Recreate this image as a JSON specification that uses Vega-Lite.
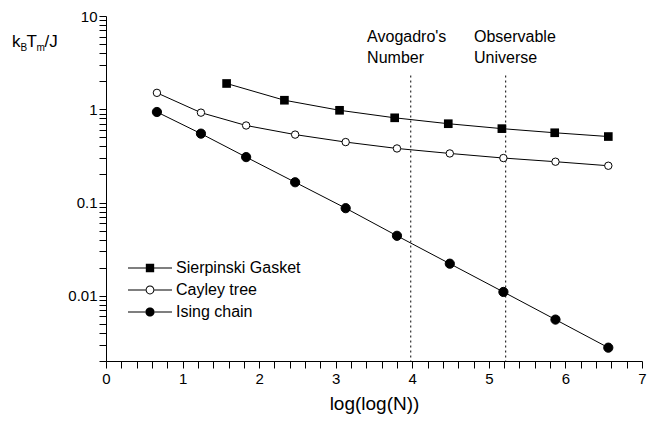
{
  "$schema": "https://vega.github.io/schema/vega-lite/v6.json",
  "width": 536,
  "height": 345,
  "autosize": "none",
  "padding": {"left": 106, "top": 16, "right": 15, "bottom": 60},
  "background": "white",
  "config": {
    "view": {"stroke": null},
    "font": "Liberation Sans",
    "axis": {"labelFont": "Liberation Sans", "titleFont": "Liberation Sans", "domainColor": "black", "tickColor": "black", "labelColor": "black", "titleColor": "black", "grid": false, "domainWidth": 1, "tickWidth": 1, "labelOverlap": false}
  },
  "datasets": {
    "series": [
      {"model": "Sierpinski Gasket", "x": 1.575, "y": 1.89},
      {"model": "Sierpinski Gasket", "x": 2.33, "y": 1.25},
      {"model": "Sierpinski Gasket", "x": 3.05, "y": 0.975},
      {"model": "Sierpinski Gasket", "x": 3.77, "y": 0.81},
      {"model": "Sierpinski Gasket", "x": 4.47, "y": 0.70},
      {"model": "Sierpinski Gasket", "x": 5.17, "y": 0.62},
      {"model": "Sierpinski Gasket", "x": 5.86, "y": 0.56},
      {"model": "Sierpinski Gasket", "x": 6.56, "y": 0.51},
      {"model": "Cayley tree", "x": 0.665, "y": 1.50},
      {"model": "Cayley tree", "x": 1.24, "y": 0.92},
      {"model": "Cayley tree", "x": 1.83, "y": 0.67},
      {"model": "Cayley tree", "x": 2.47, "y": 0.535},
      {"model": "Cayley tree", "x": 3.13, "y": 0.445},
      {"model": "Cayley tree", "x": 3.80, "y": 0.38},
      {"model": "Cayley tree", "x": 4.49, "y": 0.336},
      {"model": "Cayley tree", "x": 5.19, "y": 0.30},
      {"model": "Cayley tree", "x": 5.87, "y": 0.274},
      {"model": "Cayley tree", "x": 6.56, "y": 0.248},
      {"model": "Ising chain", "x": 0.665, "y": 0.935},
      {"model": "Ising chain", "x": 1.24, "y": 0.548},
      {"model": "Ising chain", "x": 1.83, "y": 0.307},
      {"model": "Ising chain", "x": 2.47, "y": 0.165},
      {"model": "Ising chain", "x": 3.13, "y": 0.087},
      {"model": "Ising chain", "x": 3.80, "y": 0.044},
      {"model": "Ising chain", "x": 4.49, "y": 0.0221},
      {"model": "Ising chain", "x": 5.19, "y": 0.011},
      {"model": "Ising chain", "x": 5.87, "y": 0.00556},
      {"model": "Ising chain", "x": 6.56, "y": 0.00278}
    ],
    "marks": [
      {"label": "Avogadro's\nNumber", "x": 3.98, "labelx": 3.41},
      {"label": "Observable\nUniverse", "x": 5.22, "labelx": 4.806}
    ]
  },
  "layer": [
    {
      "data": {"name": "series"},
      "mark": {"type": "line", "color": "black", "strokeWidth": 1},
      "encoding": {
        "x": {"field": "x", "type": "quantitative", "scale": {"domain": [0, 7], "nice": false, "zero": false},
          "axis": {
            "values": [0, 0.2, 0.4, 0.6, 0.8, 1, 1.2, 1.4, 1.6, 1.8, 2, 2.2, 2.4, 2.6, 2.8, 3, 3.2, 3.4, 3.6, 3.8, 4, 4.2, 4.4, 4.6, 4.8, 5, 5.2, 5.4, 5.6, 5.8, 6, 6.2, 6.4, 6.6, 6.8, 7],
            "tickCount": 200,
            "labelExpr": "datum.value == 0 ? '0' : datum.value == 1 ? '1' : datum.value == 2 ? '2' : datum.value == 3 ? '3' : datum.value == 4 ? '4' : datum.value == 5 ? '5' : datum.value == 6 ? '6' : datum.value == 7 ? '7' : ''",
            "tickSize": 7,
            "encode": {"ticks": {"update": {"y2": {"signal": "(datum.value == 0 || datum.value == 1 || datum.value == 2 || datum.value == 3 || datum.value == 4 || datum.value == 5 || datum.value == 6 || datum.value == 7) ? 7 : 4"}}}},
            "labelFontSize": 15, "labelPadding": 3, "labelFlush": false, "labelOverlap": false, "labelBound": false,
            "title": "log(log(N))", "titleFontSize": 19, "titleFontWeight": "normal", "titlePadding": 8
          }
        },
        "y": {"field": "y", "type": "quantitative", "scale": {"type": "log", "domain": [0.002, 10], "nice": false},
          "axis": {
            "values": [0.002, 0.003, 0.004, 0.005, 0.006, 0.007, 0.008, 0.009, 0.01, 0.02, 0.03, 0.04, 0.05, 0.06, 0.07, 0.08, 0.09, 0.1, 0.2, 0.3, 0.4, 0.5, 0.6, 0.7, 0.8, 0.9, 1, 2, 3, 4, 5, 6, 7, 8, 9, 10],
            "tickCount": 200,
            "labelExpr": "datum.value == 10 ? '10' : datum.value == 1 ? '1' : datum.value == 0.1 ? '0.1' : datum.value == 0.01 ? '0.01' : ''",
            "tickSize": 7,
            "encode": {"ticks": {"update": {"x2": {"signal": "(datum.value == 10 || datum.value == 1 || datum.value == 0.1 || datum.value == 0.01) ? -7 : -4"}}}},
            "labelFontSize": 15, "labelPadding": 2, "labelFlush": false, "labelOverlap": false,
            "title": null
          }
        },
        "detail": {"field": "model"}
      }
    },
    {
      "data": {"name": "marks"},
      "mark": {"type": "rule", "strokeDash": [2, 3], "color": "black", "strokeWidth": 1},
      "encoding": {
        "x": {"field": "x", "type": "quantitative"},
        "y": {"datum": 2.3, "type": "quantitative"},
        "y2": {"datum": 0.002}
      }
    },
    {
      "data": {"name": "series"},
      "transform": [{"filter": "datum.model === 'Sierpinski Gasket'"}],
      "mark": {"type": "square", "color": "black", "opacity": 1, "size": 75},
      "encoding": {
        "x": {"field": "x", "type": "quantitative"},
        "y": {"field": "y", "type": "quantitative"}
      }
    },
    {
      "data": {"name": "series"},
      "transform": [{"filter": "datum.model !== 'Sierpinski Gasket'"}],
      "mark": {"type": "circle", "stroke": "black", "strokeWidth": 1, "opacity": 1},
      "encoding": {
        "x": {"field": "x", "type": "quantitative"},
        "y": {"field": "y", "type": "quantitative"},
        "fill": {"condition": {"test": "datum.model === 'Cayley tree'", "value": "white"}, "value": "black"},
        "size": {"condition": {"test": "datum.model === 'Cayley tree'", "value": 55}, "value": 85}
      }
    },
    {
      "data": {"name": "series"},
      "mark": {"type": "point", "filled": true, "color": "black", "fill": "black", "opacity": 0},
      "encoding": {
        "x": {"field": "x", "type": "quantitative"},
        "y": {"field": "y", "type": "quantitative"},
        "shape": {"field": "model", "type": "nominal",
          "scale": {"domain": ["Sierpinski Gasket", "Cayley tree", "Ising chain"],
            "range": [
              "M-1,-0.025H-0.19V0.025H-1ZM0.19,-0.025H1V0.025H0.19ZM-0.19,-0.19H0.19V0.19H-0.19Z",
              "M-1,-0.025H-0.2V0.025H-1ZM0.2,-0.025H1V0.025H0.2ZM-0.2,0A0.2,0.2,0,1,0,0.2,0A0.2,0.2,0,1,0,-0.2,0ZM-0.155,0A0.155,0.155,0,1,1,0.155,0A0.155,0.155,0,1,1,-0.155,0Z",
              "M-1,-0.025H-0.2V0.025H-1ZM0.2,-0.025H1V0.025H0.2ZM-0.21,0A0.21,0.21,0,1,0,0.21,0A0.21,0.21,0,1,0,-0.21,0Z"
            ]},
          "legend": {
            "title": null, "orient": "none", "legendX": 22, "legendY": 241, "padding": 0,
            "symbolSize": 1936, "symbolOpacity": 1, "symbolFillColor": "black", "symbolStrokeWidth": 0,
            "clipHeight": 22, "rowPadding": 0, "labelOffset": 4,
            "labelFont": "Liberation Sans", "labelFontSize": 16, "labelColor": "black"
          }
        }
      }
    },
    {
      "data": {"name": "marks"},
      "mark": {"type": "text", "align": "left", "baseline": "alphabetic", "fontSize": 16, "lineBreak": "\n", "lineHeight": 21, "color": "black", "font": "Liberation Sans"},
      "encoding": {
        "x": {"field": "labelx", "type": "quantitative"},
        "y": {"datum": 5.25, "type": "quantitative"},
        "text": {"field": "label"}
      }
    },
    {
      "data": {"values": [{"t": "k"}]},
      "mark": {"type": "text", "align": "left", "baseline": "alphabetic", "fontSize": 17, "color": "black", "clip": false},
      "encoding": {"x": {"datum": -1.2276, "type": "quantitative"}, "y": {"datum": 4.64, "type": "quantitative"}, "text": {"field": "t"}}
    },
    {
      "data": {"values": [{"t": "B"}]},
      "mark": {"type": "text", "align": "left", "baseline": "alphabetic", "fontSize": 10, "color": "black", "clip": false},
      "encoding": {"x": {"datum": -1.1166, "type": "quantitative"}, "y": {"datum": 4.215, "type": "quantitative"}, "text": {"field": "t"}}
    },
    {
      "data": {"values": [{"t": "T"}]},
      "mark": {"type": "text", "align": "left", "baseline": "alphabetic", "fontSize": 17, "color": "black", "clip": false},
      "encoding": {"x": {"datum": -1.0383, "type": "quantitative"}, "y": {"datum": 4.64, "type": "quantitative"}, "text": {"field": "t"}}
    },
    {
      "data": {"values": [{"t": "m"}]},
      "mark": {"type": "text", "align": "left", "baseline": "alphabetic", "fontSize": 10, "color": "black", "clip": false},
      "encoding": {"x": {"datum": -0.9077, "type": "quantitative"}, "y": {"datum": 4.215, "type": "quantitative"}, "text": {"field": "t"}}
    },
    {
      "data": {"values": [{"t": "/J"}]},
      "mark": {"type": "text", "align": "left", "baseline": "alphabetic", "fontSize": 17, "color": "black", "clip": false},
      "encoding": {"x": {"datum": -0.8032, "type": "quantitative"}, "y": {"datum": 4.64, "type": "quantitative"}, "text": {"field": "t"}}
    }
  ]
}
